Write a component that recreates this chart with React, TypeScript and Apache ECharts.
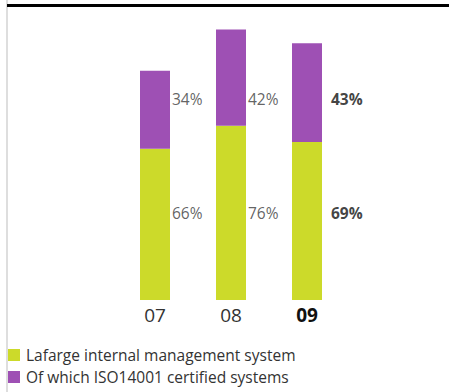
import React, { useEffect, useRef } from "react";
import * as echarts from "echarts";

const categories = ["07", "08", "09"];
const internalValues = [66, 76, 69];
const isoValues = [34, 42, 43];
const seriesNames = ["Lafarge internal management system", "Of which ISO14001 certified systems"];

const GREEN = "#CCDA2A";
const PURPLE = "#9E50B4";
const FONT = "Open Sans";
// fixed label levels (in axis units) where the percentage labels sit
const ISO_LABEL_LEVEL = 87.5;
const INT_LABEL_LEVEL = 38;

export default function App() {
  const ref = useRef<HTMLDivElement>(null);
  useEffect(() => {
    document.body.style.margin = "0";
    const chart = echarts.init(ref.current!, null, { renderer: "svg" });
    const last = categories.length - 1;
    const labelSeries = (level: number, vals: number[]) => ({
      type: "scatter",
      silent: true,
      symbolSize: 0,
      z: 5,
      data: vals.map((v, i) => ({
        value: [i, level],
        label: i === last
          ? { fontWeight: "bold", color: "#111", distance: 24 }
          : undefined,
      })),
      label: {
        show: true,
        position: "right",
        distance: 17,
        fontFamily: FONT,
        fontSize: 15.5,
        color: "#3a3a3a",
        formatter: (p: any) => vals[p.dataIndex] + "%",
      },
    });
    chart.setOption({
      animation: false,
      grid: { left: 117, width: 228, top: 25, bottom: 92 },
      xAxis: {
        type: "category",
        data: categories.map((c, i) =>
          i === last ? { value: c, textStyle: { fontWeight: "bold", color: "#111" } } : c
        ),
        axisLine: { show: false },
        axisTick: { show: false },
        axisLabel: { fontFamily: FONT, fontSize: 19, color: "#333", margin: 5 },
      },
      yAxis: { type: "value", min: 0, max: 120, show: false, splitLine: { show: false } },
      legend: {
        orient: "vertical",
        left: 8,
        top: 347,
        padding: 0,
        itemWidth: 12,
        itemHeight: 12,
        itemGap: 6,
        icon: "rect",
        data: seriesNames,
        textStyle: { fontFamily: FONT, fontSize: 15.5, lineHeight: 16, color: "#333", padding: [0, 0, 0, 1] },
      },
      graphic: [
        { type: "rect", shape: { x: 6, y: 0, width: 2, height: 392 }, style: { fill: "#dedede" }, silent: true },
        { type: "rect", shape: { x: 7, y: 4, width: 442, height: 3 }, style: { fill: "#000" }, silent: true },
      ],
      series: [
        {
          name: seriesNames[0],
          type: "bar",
          stack: "s",
          barWidth: 30,
          itemStyle: { color: GREEN },
          data: internalValues,
        },
        {
          name: seriesNames[1],
          type: "bar",
          stack: "s",
          barWidth: 30,
          itemStyle: { color: PURPLE },
          data: isoValues,
        },
        labelSeries(ISO_LABEL_LEVEL, isoValues),
        labelSeries(INT_LABEL_LEVEL, internalValues),
      ],
    });
    return () => chart.dispose();
  }, []);
  return <div ref={ref} style={{ width: 449, height: 392 }} />;
}
